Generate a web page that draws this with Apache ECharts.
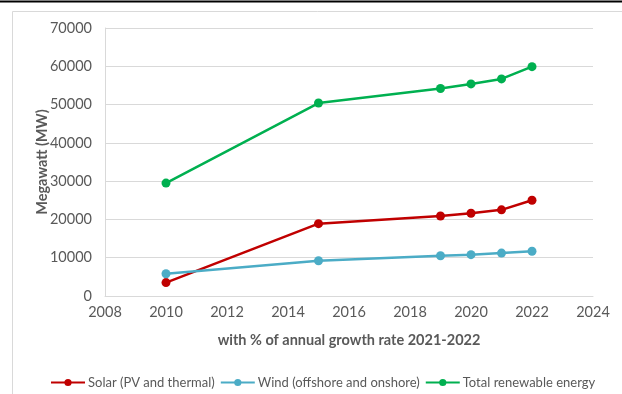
<!DOCTYPE html>
<html>
<head>
<meta charset="utf-8">
<script src="https://cdn.jsdelivr.net/npm/echarts@6/dist/echarts.min.js"></script>
<style>
  html, body { margin: 0; padding: 0; background: #fff; }
  #chart { width: 622px; height: 394px; }
</style>
</head>
<body>
<div id="chart"></div>
<script>
// Installed renewable capacity (MW) by year
const years = [2010, 2015, 2019, 2020, 2021, 2022];
const solar = [3500, 18900, 20900, 21600, 22500, 25000];
const wind = [5800, 9200, 10500, 10800, 11200, 11700];
const total = [29500, 50400, 54200, 55400, 56700, 59900];

const seriesNames = ['Solar (PV and thermal)', 'Wind (offshore and onshore)', 'Total renewable energy'];
const seriesColors = ['#C00000', '#4BACC6', '#00B050'];
const seriesValues = [solar, wind, total];

const textColor = '#595959';
const font = 'Lato, "Open Sans", sans-serif';

const chart = echarts.init(document.getElementById('chart'), null, { renderer: 'canvas' });

const series = seriesNames.map((name, i) => ({
  name: name,
  type: 'line',
  data: years.map((y, k) => [y, seriesValues[i][k]]),
  symbol: 'circle',
  symbolSize: 9,
  lineStyle: { color: seriesColors[i], width: 2.5 },
  itemStyle: { color: seriesColors[i] },
  emphasis: { disabled: true },
  z: 3 + i
}));

const plainNumber = v => String(v);

chart.setOption({
  animation: false,
  backgroundColor: '#fff',
  textStyle: { fontFamily: font },
  graphic: [
    { type: 'line', shape: { x1: 0, y1: 1.5, x2: 622, y2: 1.5 }, style: { stroke: '#000', lineWidth: 2 }, silent: true },
    { type: 'rect', shape: { x: 12.5, y: 11.5, width: 700, height: 500 }, style: { fill: 'none', stroke: '#d9d9d9', lineWidth: 1 }, silent: true }
  ],
  grid: { left: 105, right: 29, top: 28, bottom: 98, containLabel: false },
  legend: {
    top: 371,
    left: 45,
    itemWidth: 34,
    itemHeight: 9,
    itemGap: 5,
    textStyle: { color: textColor, fontSize: 13, fontFamily: font, padding: [0, 0, 0, -2] },
    data: seriesNames
  },
  xAxis: {
    type: 'value',
    min: 2008,
    max: 2024,
    interval: 2,
    name: 'with % of annual growth rate 2021-2022',
    nameLocation: 'middle',
    nameGap: 37,
    nameMoveOverlap: false,
    nameTextStyle: { color: textColor, fontWeight: 'bold', fontSize: 14.5 },
    axisLine: { show: true, lineStyle: { color: '#d9d9d9', width: 1 } },
    axisTick: { show: false },
    splitLine: { show: false },
    axisLabel: { color: textColor, fontSize: 14.5, margin: 9, formatter: plainNumber }
  },
  yAxis: {
    type: 'value',
    min: 0,
    max: 70000,
    interval: 10000,
    name: 'Megawatt (MW)',
    nameLocation: 'middle',
    nameGap: 55,
    nameMoveOverlap: false,
    nameRotate: 90,
    nameTextStyle: { color: textColor, fontWeight: 'bold', fontSize: 14.5 },
    axisLine: { show: true, lineStyle: { color: '#d9d9d9', width: 1 } },
    axisTick: { show: false },
    splitLine: { show: true, lineStyle: { color: '#d9d9d9', width: 1 } },
    axisLabel: { color: textColor, fontSize: 14.5, margin: 13, formatter: plainNumber }
  },
  series: series
});
</script>
</body>
</html>
